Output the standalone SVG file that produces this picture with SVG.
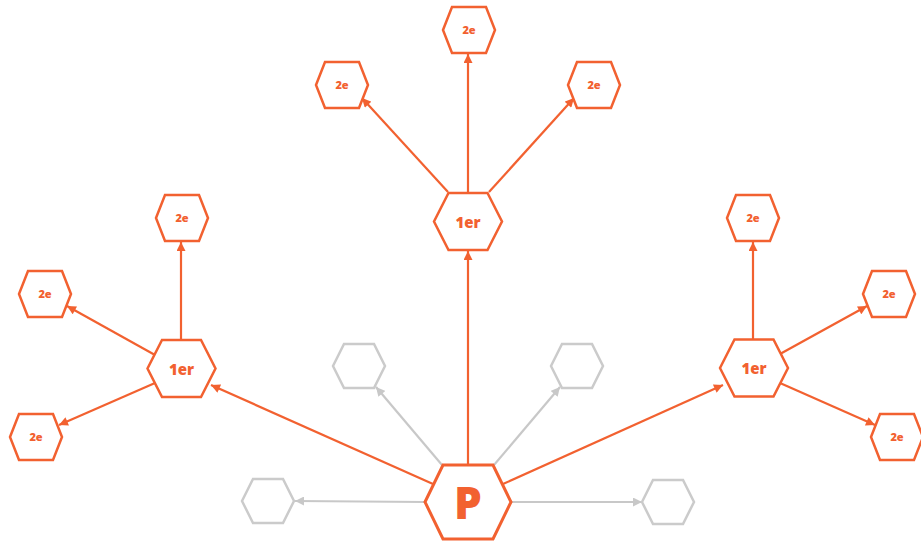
<svg xmlns="http://www.w3.org/2000/svg" width="921" height="541" viewBox="0 0 921 541">
  <style>
    .hex { fill: #ffffff; stroke: #f26130; stroke-width: 2.5; stroke-linejoin: miter; }
    .hex-grey { fill: #ffffff; stroke: #cbcbcb; stroke-width: 2.5; }
    .edge { stroke: #f26130; stroke-width: 2.2; fill: none; }
    .edge-grey { stroke: #c8c8c8; stroke-width: 2.2; fill: none; }
    .lbl { font-family: "Open Sans", "Liberation Sans", sans-serif; font-weight: 800; fill: #f26130; text-anchor: middle; }
    .p { font-size: 44px; }
    .l1 { font-size: 15px; }
    .l2 { font-size: 11px; }
  </style>
  <defs>
    <marker id="arrow" viewBox="0 0 10 10" refX="10" refY="5" markerWidth="10" markerHeight="9" markerUnits="userSpaceOnUse" orient="auto">
      <path d="M0,0 L10,5 L0,10 z" fill="#f26130"/>
    </marker>
    <marker id="arrow-grey" viewBox="0 0 10 10" refX="10" refY="5" markerWidth="10" markerHeight="9" markerUnits="userSpaceOnUse" orient="auto">
      <path d="M0,0 L10,5 L0,10 z" fill="#c8c8c8"/>
    </marker>
    <polygon id="hexP" points="-43,0 -25,-37 25,-37 43,0 25,37 -25,37"/>
    <polygon id="hex1" points="-34,0 -19.5,-28.5 19.5,-28.5 34,0 19.5,28.5 -19.5,28.5"/>
    <polygon id="hex2" points="-26,0 -17,-23 17,-23 26,0 17,23 -17,23"/>
    <polygon id="hexG" points="-26,0 -15,-22 15,-22 26,0 15,22 -15,22"/>
  </defs>

  <!-- connectors -->
  <g id="connectors">
    <!-- from P -->
    <line class="edge" x1="468" y1="465" x2="468" y2="251" marker-end="url(#arrow)"/>
    <line class="edge" x1="433" y1="484" x2="211" y2="385" marker-end="url(#arrow)"/>
    <line class="edge" x1="503" y1="484" x2="723" y2="385" marker-end="url(#arrow)"/>
    <line class="edge-grey" x1="425" y1="502" x2="295" y2="501" marker-end="url(#arrow-grey)"/>
    <line class="edge-grey" x1="511" y1="502" x2="642" y2="502" marker-end="url(#arrow-grey)"/>
    <line class="edge-grey" x1="442" y1="465" x2="376" y2="387" marker-end="url(#arrow-grey)"/>
    <line class="edge-grey" x1="494" y1="465" x2="560" y2="387" marker-end="url(#arrow-grey)"/>
    <!-- from central 1er -->
    <line class="edge" x1="468" y1="193" x2="468" y2="54" marker-end="url(#arrow)"/>
    <line class="edge" x1="448" y1="192" x2="362" y2="98" marker-end="url(#arrow)"/>
    <line class="edge" x1="489" y1="192" x2="574" y2="98" marker-end="url(#arrow)"/>
    <!-- from left 1er -->
    <line class="edge" x1="181" y1="340" x2="181" y2="242" marker-end="url(#arrow)"/>
    <line class="edge" x1="155" y1="355" x2="67" y2="306" marker-end="url(#arrow)"/>
    <line class="edge" x1="155" y1="383" x2="59" y2="425" marker-end="url(#arrow)"/>
    <!-- from right 1er -->
    <line class="edge" x1="753" y1="339" x2="753" y2="242" marker-end="url(#arrow)"/>
    <line class="edge" x1="780" y1="354" x2="867" y2="306" marker-end="url(#arrow)"/>
    <line class="edge" x1="780" y1="383" x2="875" y2="425" marker-end="url(#arrow)"/>
  </g>

  <!-- nodes -->
  <g id="node-p" transform="translate(468,502)">
    <use href="#hexP" class="hex" style="stroke-width:3"/>
    <text class="lbl p" x="0" y="17">P</text>
  </g>

  <g id="node-1er-center" transform="translate(468,221.5)">
    <use href="#hex1" class="hex"/>
    <text class="lbl l1" x="0" y="6">1er</text>
  </g>
  <g id="node-1er-left" transform="translate(181.5,368.5)">
    <use href="#hex1" class="hex"/>
    <text class="lbl l1" x="0" y="6">1er</text>
  </g>
  <g id="node-1er-right" transform="translate(754,368)">
    <use href="#hex1" class="hex"/>
    <text class="lbl l1" x="0" y="6">1er</text>
  </g>

  <g id="node-2e-top" transform="translate(469,30)">
    <use href="#hex2" class="hex"/>
    <text class="lbl l2" x="0" y="4">2e</text>
  </g>
  <g id="node-2e-top-left" transform="translate(342,85)">
    <use href="#hex2" class="hex"/>
    <text class="lbl l2" x="0" y="4">2e</text>
  </g>
  <g id="node-2e-top-right" transform="translate(594,85)">
    <use href="#hex2" class="hex"/>
    <text class="lbl l2" x="0" y="4">2e</text>
  </g>
  <g id="node-2e-left-up" transform="translate(182,218)">
    <use href="#hex2" class="hex"/>
    <text class="lbl l2" x="0" y="4">2e</text>
  </g>
  <g id="node-2e-left" transform="translate(45,294)">
    <use href="#hex2" class="hex"/>
    <text class="lbl l2" x="0" y="4">2e</text>
  </g>
  <g id="node-2e-left-down" transform="translate(36,437)">
    <use href="#hex2" class="hex"/>
    <text class="lbl l2" x="0" y="4">2e</text>
  </g>
  <g id="node-2e-right-up" transform="translate(753,218)">
    <use href="#hex2" class="hex"/>
    <text class="lbl l2" x="0" y="4">2e</text>
  </g>
  <g id="node-2e-right" transform="translate(889,294)">
    <use href="#hex2" class="hex"/>
    <text class="lbl l2" x="0" y="4">2e</text>
  </g>
  <g id="node-2e-right-down" transform="translate(897,437)">
    <use href="#hex2" class="hex"/>
    <text class="lbl l2" x="0" y="4">2e</text>
  </g>

  <g id="node-grey-up-left" transform="translate(359,366)">
    <use href="#hexG" class="hex-grey"/>
  </g>
  <g id="node-grey-up-right" transform="translate(577,366)">
    <use href="#hexG" class="hex-grey"/>
  </g>
  <g id="node-grey-left" transform="translate(268,501)">
    <use href="#hexG" class="hex-grey"/>
  </g>
  <g id="node-grey-right" transform="translate(668,502)">
    <use href="#hexG" class="hex-grey"/>
  </g>
</svg>
